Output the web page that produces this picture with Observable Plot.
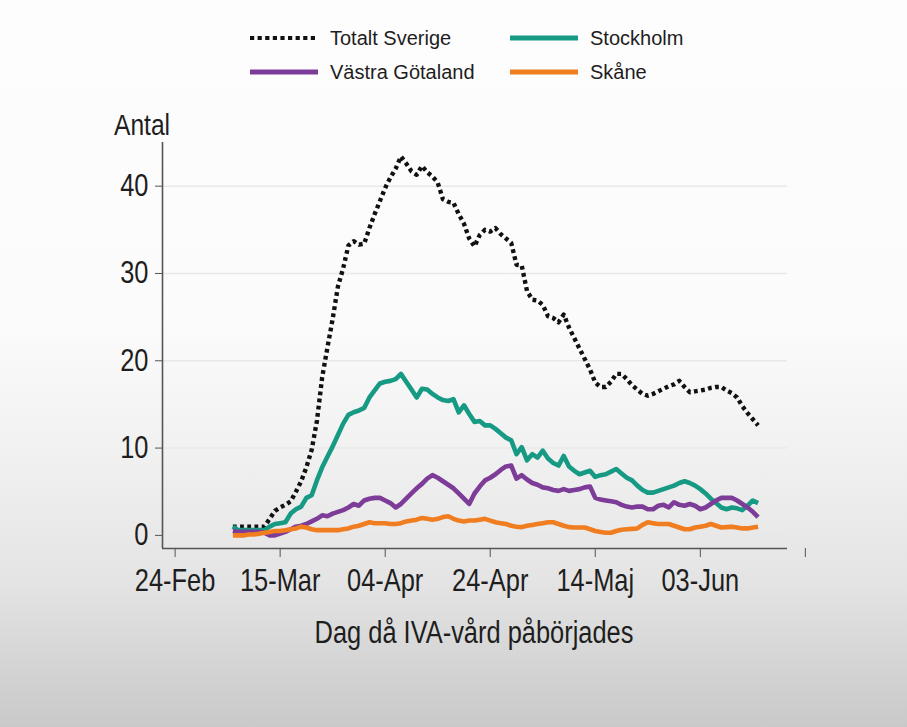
<!DOCTYPE html>
<html>
<head>
<meta charset="utf-8">
<script src="https://cdn.jsdelivr.net/npm/d3@7"></script>
<script src="https://cdn.jsdelivr.net/npm/@observablehq/plot@0.6"></script>
<style>
  html, body { margin: 0; padding: 0; }
  body {
    width: 907px; height: 727px; overflow: hidden;
    font-family: "Liberation Sans", Arial, sans-serif; color: #1e1e1e;
    background: linear-gradient(to bottom, #fdfdfd 0%, #fbfbfb 45%, #f1f1f1 62%, #e4e4e4 80%, #c9c9c9 100%);
  }
  #wrap { position: relative; width: 907px; height: 727px; }
  .leg { position: absolute; display: flex; align-items: center; height: 26px; font-size: 20px; white-space: nowrap; }
  .leg svg { margin-right: 12px; }
  #antal { position: absolute; left: 114px; top: 108px; font-size: 30px; line-height: 34px; transform: scaleX(0.82); transform-origin: left center; }
  #xtitle { position: absolute; left: 474px; top: 615px; transform: translateX(-50%) scaleX(0.82); transform-origin: center center; font-size: 31px; line-height: 36px; white-space: nowrap; }
  #chart { position: absolute; left: 0; top: 100px; }
  #chart svg { background: transparent !important; }
</style>
</head>
<body>
<div id="wrap">
  <div id="legend"></div>
  <div id="antal">Antal</div>
  <div id="chart"></div>
  <div id="xtitle">Dag då IVA-vård påbörjades</div>
</div>
<script>
// ---- data (daily values, first day 2020-03-06) ----
const startDate = "2020-03-06";
const seriesNames = ["Totalt Sverige", "Stockholm", "Västra Götaland", "Skåne"];
const seriesColors = ["#111111", "#169a84", "#7d3c98", "#f07d20"];

const totaltSverige = [
  1.0,1.0,1.0,1.0,1.0,1.0,1.0,1.9,2.8,3.2,
  3.5,3.9,5.0,6.2,7.8,9.8,13.1,18.1,21.5,24.8,
  28.5,30.6,33.2,33.7,33.3,33.4,35.2,36.8,38.3,39.8,
  41.0,42.0,43.4,42.6,41.7,41.3,42.3,41.6,41.1,40.4,
  38.5,38.2,38.1,36.8,35.7,34.0,33.1,34.4,35.0,34.8,
  35.2,34.5,34.0,33.5,31.0,30.9,28.0,27.0,26.9,26.4,
  25.1,24.9,24.4,25.3,23.8,22.6,21.4,20.2,19.0,17.5,
  17.0,17.0,17.6,18.5,18.5,17.9,17.2,16.7,16.2,16.0,
  16.2,16.5,16.8,17.1,17.3,17.7,17.0,16.4,16.5,16.6,
  16.7,16.9,17.0,17.0,16.6,16.3,15.8,14.8,14.0,13.3,
  12.6
];
const stockholm = [
  1.0,0.6,0.6,0.6,0.6,0.6,0.6,1.0,1.3,1.4,
  1.5,2.5,3.0,3.3,4.3,4.6,6.3,7.8,9.0,10.2,
  11.5,12.8,13.8,14.1,14.3,14.6,15.8,16.6,17.4,17.6,
  17.7,17.9,18.5,17.6,16.7,15.8,16.8,16.7,16.2,15.8,
  15.5,15.4,15.6,14.1,14.9,13.9,13.0,13.1,12.6,12.6,
  12.2,11.7,11.2,10.9,9.3,10.1,8.6,9.3,8.9,9.7,
  8.8,8.3,8.0,9.1,7.9,7.4,7.0,7.2,7.4,6.7,
  6.9,7.0,7.3,7.6,7.1,6.6,6.3,5.7,5.2,4.9,
  4.9,5.1,5.3,5.5,5.7,6.0,6.2,6.0,5.7,5.3,
  4.8,4.2,3.7,3.2,3.0,3.2,3.1,2.9,3.4,4.0,
  3.7
];
const vastraGotaland = [
  0.5,0.4,0.4,0.4,0.4,0.4,0.3,0.0,0.0,0.2,
  0.4,0.7,1.0,1.1,1.3,1.6,1.9,2.3,2.2,2.5,
  2.7,2.9,3.2,3.6,3.4,4.0,4.2,4.3,4.3,4.0,
  3.7,3.2,3.6,4.2,4.8,5.4,5.9,6.5,6.9,6.6,
  6.2,5.8,5.4,4.8,4.2,3.6,4.8,5.6,6.3,6.6,
  7.0,7.5,7.9,8.0,6.5,6.9,6.4,6.0,5.8,5.5,
  5.4,5.2,5.1,5.3,5.1,5.2,5.3,5.5,5.6,4.3,
  4.1,4.0,3.9,3.8,3.5,3.3,3.2,3.3,3.3,3.0,
  3.0,3.4,3.5,3.2,3.8,3.5,3.4,3.6,3.4,3.0,
  3.2,3.6,4.0,4.3,4.3,4.3,4.0,3.6,3.2,2.7,
  2.1
];
const skane = [
  0.0,0.0,0.0,0.1,0.1,0.2,0.3,0.4,0.5,0.5,
  0.6,0.7,0.8,1.0,0.9,0.7,0.6,0.6,0.6,0.6,
  0.6,0.7,0.8,1.0,1.1,1.3,1.5,1.4,1.4,1.4,
  1.3,1.3,1.4,1.6,1.7,1.8,2.0,1.9,1.8,1.9,
  2.1,2.2,1.9,1.7,1.6,1.7,1.7,1.8,1.9,1.7,
  1.5,1.4,1.3,1.1,1.0,0.95,1.1,1.2,1.3,1.4,
  1.5,1.5,1.3,1.1,0.95,0.9,0.9,0.9,0.7,0.5,
  0.4,0.3,0.3,0.5,0.65,0.7,0.75,0.8,1.2,1.5,
  1.4,1.3,1.3,1.3,1.1,0.9,0.7,0.7,0.9,1.0,
  1.1,1.3,1.1,0.9,0.95,1.0,0.9,0.8,0.8,0.9,
  1.0
];

const tickDates = ["2020-02-24","2020-03-15","2020-04-04","2020-04-24","2020-05-14","2020-06-03","2020-06-23"];
const tickLabels = ["24-Feb","15-Mar","04-Apr","24-Apr","14-Maj","03-Jun",""];
const yTicks = [0, 10, 20, 30, 40];

// ---- build table ----
const start = d3.utcParse("%Y-%m-%d")(startDate);
const allValues = [totaltSverige, stockholm, vastraGotaland, skane];
const rows = allValues.map((vals, s) =>
  vals.map((v, i) => ({ series: seriesNames[s], date: d3.utcDay.offset(start, i), value: v }))
);
const tDates = tickDates.map(d3.utcParse("%Y-%m-%d"));
const labelMap = new Map(tDates.map((d, i) => [+d, tickLabels[i]]));

const DAY = 86400000;
const xDomain = [new Date(+tDates[0] - 2.4 * DAY), new Date(+tDates[0] + 116.6 * DAY)];
const yDomain = [-1.5, 45];

// ---- legend ----
const legend = document.getElementById("legend");
const legPos = [[250, 25], [510, 25], [250, 59], [510, 59]];
[0, 1, 2, 3].forEach((s, k) => {
  const div = document.createElement("div");
  div.className = "leg";
  div.style.left = legPos[k][0] + "px";
  div.style.top = legPos[k][1] + "px";
  const dash = s === 0 ? 'stroke-dasharray="4.2,3.4"' : '';
  div.innerHTML = `<svg width="68" height="8"><line x1="0" x2="68" y1="4" y2="4" stroke="${seriesColors[s]}" stroke-width="${s === 0 ? 4.2 : 4.8}" ${dash}/></svg><span>${seriesNames[s]}</span>`;
  legend.appendChild(div);
});

// ---- chart ----
const lineMarks = rows.map((data, s) =>
  Plot.line(data, {
    x: "date", y: "value",
    stroke: seriesColors[s],
    strokeWidth: s === 0 ? 4.4 : 4.6,
    strokeDasharray: s === 0 ? "3.8,3.4" : null,
    strokeLinecap: "butt",
    strokeLinejoin: "round"
  })
);

const chart = Plot.plot({
  width: 907,
  height: 560,
  marginLeft: 162,
  marginRight: 120,
  marginTop: 42,
  marginBottom: 112,
  style: { background: "transparent", fontFamily: "'Liberation Sans', Arial, sans-serif", fontSize: "31px", color: "#1e1e1e" },
  x: { type: "utc", domain: xDomain },
  y: { domain: yDomain },
  marks: [
    Plot.ruleY(yTicks, { stroke: "#e8e8e8", strokeWidth: 1.5 }),
    ...lineMarks,
    Plot.ruleX([xDomain[0]], { stroke: "#555", strokeWidth: 1.6 }),
    Plot.ruleY([yDomain[0]], { stroke: "#555", strokeWidth: 1.6 }),
    Plot.axisY({ ticks: yTicks, tickSize: 7, tickPadding: 7, stroke: "#555", fill: "#1e1e1e", fontSize: 31, label: null }),
    Plot.axisX({ ticks: tDates, tickFormat: d => labelMap.get(+d), tickSize: 9, tickPadding: 11, stroke: "#555", fill: "#1e1e1e", fontSize: 31, label: null })
  ]
});

// narrow the axis tick labels horizontally (the reference uses a condensed face)
chart.querySelectorAll("text").forEach(t => {
  const tr = t.getAttribute("transform");
  if (tr) {
    t.setAttribute("transform", tr + " scale(0.82,1)");
  } else {
    const x = +(t.getAttribute("x") || 0), y = +(t.getAttribute("y") || 0);
    t.removeAttribute("x"); t.removeAttribute("y");
    t.setAttribute("transform", `translate(${x},${y}) scale(0.82,1)`);
  }
});
document.getElementById("chart").appendChild(chart);
</script>
</body>
</html>
